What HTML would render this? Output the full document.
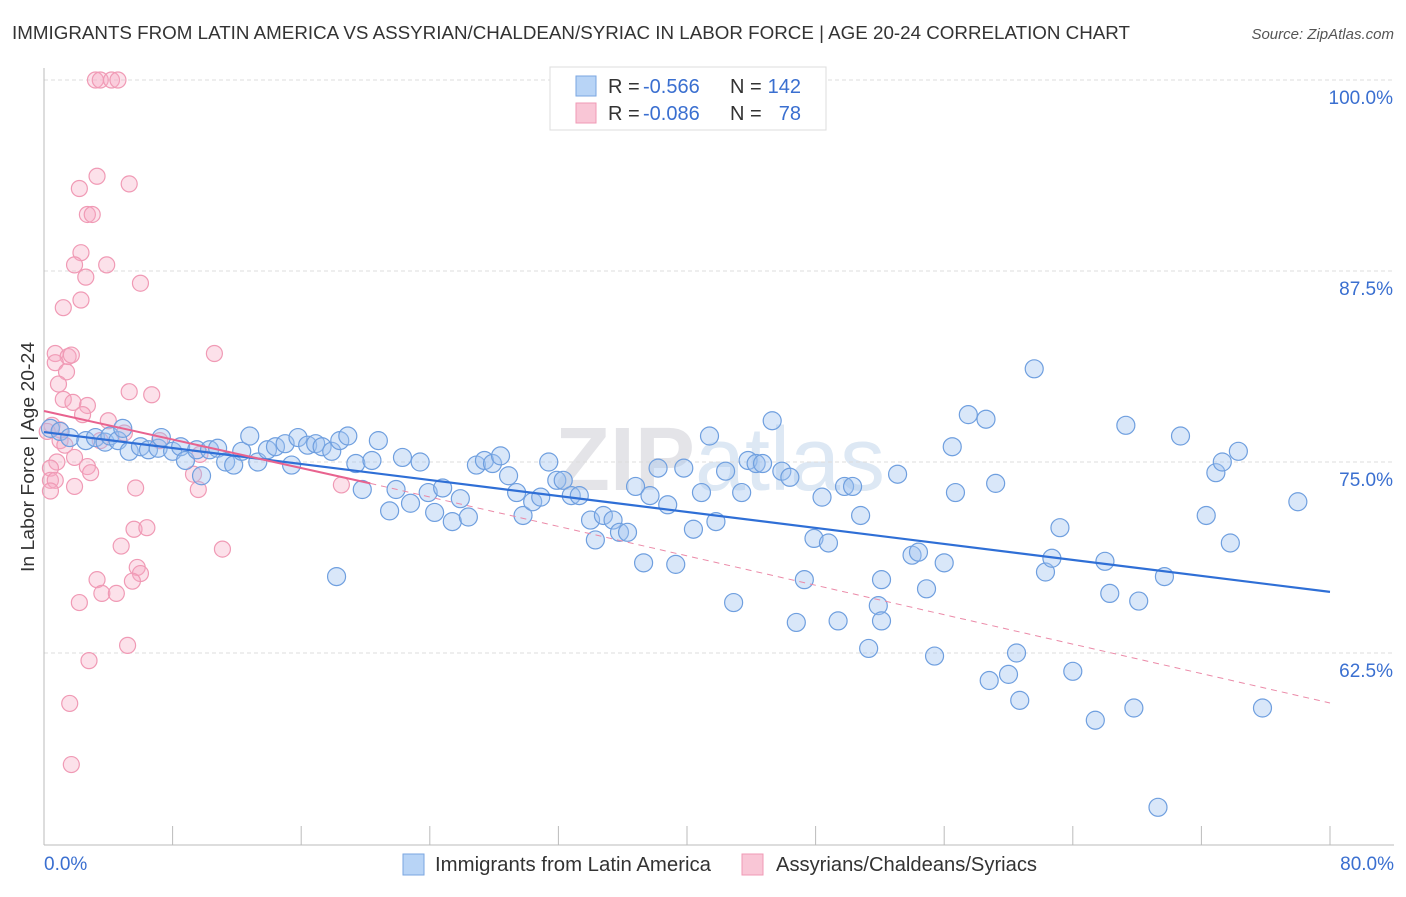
<!DOCTYPE html>
<html><head><meta charset="utf-8"><style>
body{margin:0;background:#fff;font-family:"Liberation Sans",sans-serif}
svg text{font-family:"Liberation Sans",sans-serif}
</style></head><body>
<svg id="c" width="1406" height="892" xmlns="http://www.w3.org/2000/svg">
<text x="12" y="39" font-size="18" fill="#333" textLength="1118" lengthAdjust="spacingAndGlyphs">IMMIGRANTS FROM LATIN AMERICA VS ASSYRIAN/CHALDEAN/SYRIAC IN LABOR FORCE | AGE 20-24 CORRELATION CHART</text>
<text x="1394" y="39" font-size="15" fill="#555" font-style="italic" text-anchor="end">Source: ZipAtlas.com</text>
<text x="720" y="490" font-size="90" fill="#ececef" text-anchor="middle" font-family="Liberation Serif"><tspan font-weight="bold" fill="#e4e4e8">ZIP</tspan><tspan fill="#dde8f4">atlas</tspan></text>
<g id="grid"></g><g id="axes"></g><g id="pink"></g><g id="blue"></g><g id="trend"></g>
<text transform="translate(34,457) rotate(-90)" font-size="18" fill="#333" text-anchor="middle" textLength="230" lengthAdjust="spacingAndGlyphs">In Labor Force | Age 20-24</text>
<g>
<rect x="550" y="67" width="276" height="63" fill="#fff" stroke="#ddd"/>
<rect x="576" y="76" width="20" height="20" fill="#b8d4f6" stroke="#7aa6e0"/>
<rect x="576" y="103" width="20" height="20" fill="#f9c6d6" stroke="#f09ab5"/>
<text x="608" y="93" font-size="20" fill="#333">R =</text>
<text x="643" y="93" font-size="20" fill="#3a6fd0">-0.566</text>
<text x="730" y="93" font-size="20" fill="#333">N =</text>
<text x="801" y="93" font-size="20" fill="#3a6fd0" text-anchor="end">142</text>
<text x="608" y="120" font-size="20" fill="#333">R =</text>
<text x="643" y="120" font-size="20" fill="#3a6fd0">-0.086</text>
<text x="730" y="120" font-size="20" fill="#333">N =</text>
<text x="801" y="120" font-size="20" fill="#3a6fd0" text-anchor="end">78</text>
</g>
<g>
<rect x="403" y="854" width="21" height="21" fill="#b8d4f6" stroke="#7aa6e0"/>
<text x="435" y="871" font-size="20" fill="#333" textLength="276" lengthAdjust="spacingAndGlyphs">Immigrants from Latin America</text>
<rect x="742" y="854" width="21" height="21" fill="#f9c6d6" stroke="#f09ab5"/>
<text x="776" y="871" font-size="20" fill="#333" textLength="261" lengthAdjust="spacingAndGlyphs">Assyrians/Chaldeans/Syriacs</text>
</g>
</svg>
<script>
const xTicks=[0,10,20,30,40,50,60,70,80];
const yTicks=[100,87.5,75,62.5];
const blueX=[0.4,1.0,1.6,2.6,3.2,3.8,4.1,4.6,4.9,5.3,6.0,6.5,7.1,7.3,8.0,8.5,8.8,9.5,9.8,10.3,10.8,11.3,11.8,12.3,12.8,13.3,13.9,14.4,15.0,15.4,15.8,16.4,16.9,17.3,17.9,18.4,18.9,19.4,19.8,20.4,20.8,21.5,21.9,22.3,22.8,23.4,23.9,24.3,24.8,25.4,25.9,26.4,26.9,27.4,27.9,28.4,28.9,29.4,29.8,30.4,30.9,31.4,31.9,32.3,32.8,33.3,34.0,34.3,34.8,35.4,35.8,36.3,36.8,37.3,37.7,38.2,38.8,39.3,39.8,40.4,40.9,41.4,41.8,42.4,42.9,43.4,43.8,44.3,44.7,45.3,45.9,46.4,46.8,47.3,47.9,48.4,48.8,49.4,49.8,50.3,50.8,51.3,51.9,52.1,52.1,53.1,54.0,54.4,54.9,55.4,56.0,56.5,56.7,57.5,58.6,59.2,58.8,60.0,60.5,60.7,61.6,62.3,62.7,63.2,64.0,65.4,66.0,66.3,67.3,67.8,68.1,69.3,69.7,70.7,72.3,72.9,73.3,73.8,74.3,75.8,78.0,18.2];
const blueY=[77.2,77.0,76.6,76.4,76.6,76.3,76.7,76.4,77.2,75.7,76.0,75.8,75.9,76.6,75.7,76.0,75.1,75.8,74.1,75.8,75.9,75.0,74.8,75.7,76.7,75.0,75.8,76.0,76.2,74.8,76.6,76.1,76.2,76.0,75.7,76.4,76.7,74.9,73.2,75.1,76.4,71.8,73.2,75.3,72.3,75.0,73.0,71.7,73.3,71.1,72.6,71.4,74.8,75.1,74.9,75.4,74.1,73.0,71.5,72.4,72.7,75.0,73.8,73.8,72.8,72.8,71.2,69.9,71.5,71.2,70.4,70.4,73.4,68.4,72.8,74.6,72.2,68.3,74.6,70.6,73.0,76.7,71.1,74.4,65.8,73.0,75.1,74.9,74.9,77.7,74.4,74.0,64.5,67.3,70.0,72.7,69.7,64.6,73.4,73.4,71.5,62.8,65.6,64.6,67.3,74.2,68.9,69.1,66.7,62.3,68.4,76.0,73.0,78.1,77.8,73.6,60.7,61.1,62.5,59.4,81.1,67.8,68.7,70.7,61.3,58.1,68.5,66.4,77.4,58.9,65.9,52.4,67.5,76.7,71.5,74.3,75.0,69.7,75.7,58.9,72.4,67.5];
const pinkX=[3.2,3.5,4.2,4.6,3.3,2.2,5.3,2.7,3.0,2.3,1.9,3.9,2.6,6.0,2.3,1.2,0.7,1.5,1.7,10.6,0.7,1.4,0.9,5.3,6.7,1.2,2.7,1.8,4.0,2.4,0.5,1.0,0.2,5.0,3.5,7.2,1.9,2.7,0.8,2.9,0.4,0.4,0.7,1.9,0.4,5.7,9.3,9.6,18.5,5.6,6.4,4.8,5.8,6.0,3.3,5.5,3.6,4.5,2.2,11.1,5.2,2.8,1.6,1.7,1.0,1.3,9.7];
const pinkY=[100,100,100,100,93.7,92.9,93.2,91.2,91.2,88.7,87.9,87.9,87.1,86.7,85.6,85.1,82.1,81.9,82.0,82.1,81.5,80.9,80.1,79.6,79.4,79.1,78.7,78.9,77.7,78.1,77.4,77.1,77.0,76.9,76.4,76.4,75.3,74.7,75.0,74.3,74.6,73.8,73.8,73.4,73.1,73.3,74.2,73.2,73.5,70.6,70.7,69.5,68.1,67.7,67.3,67.2,66.4,66.4,65.8,69.3,63.0,62.0,59.2,55.2,76.4,76.1,75.5];
const blueTrend=[0,76.96,80,66.5];
const pinkTrend=[0,78.34,20.3,73.6,80,59.23];
const X=v=>44+v*16.075, Y=v=>80+(100-v)*15.28;
const NS="http://www.w3.org/2000/svg";
function mk(p,t,a){const e=document.createElementNS(NS,t);for(const k in a)e.setAttribute(k,a[k]);document.getElementById(p).appendChild(e);return e;}
yTicks.forEach(t=>{
 const l=mk('grid','line',{x1:44,x2:1394,y1:Y(t),y2:Y(t),stroke:'#ddd','stroke-dasharray':'4 3'});
 
 
 const tx=mk('grid','text',{x:1393,y:Y(t)+24,'font-size':19,fill:'#3a6fd0','text-anchor':'end'});
 tx.textContent=t.toFixed(1)+'%';
 
 
});
mk('axes','line',{x1:44,x2:44,y1:68,y2:845,stroke:'#bbb'});
mk('axes','line',{x1:44,x2:1394,y1:845,y2:845,stroke:'#bbb'});
for(let i=0;i<=10;i++){const x=44+i*128.6;const t=mk('axes','line',{x1:x,x2:x,y1:826,y2:845,stroke:'#bbb'});
 
 }
[[0,'0.0%','start',44],[80,'80.0%','end',1394]].forEach(a=>{const t=mk('axes','text',{x:a[3],y:870,'font-size':19,fill:'#3a6fd0','text-anchor':a[2]});t.textContent=a[1];
 
 });
pinkX.forEach((v,i)=>{const c=mk('pink','circle',{cx:X(v),cy:Y(pinkY[i]),r:8,fill:'rgba(246,170,195,0.35)',stroke:'#f09ab5','stroke-width':1.2});
 
 });
blueX.forEach((v,i)=>{const c=mk('blue','circle',{cx:X(v),cy:Y(blueY[i]),r:9,fill:'rgba(160,196,240,0.4)',stroke:'#6f9fdf','stroke-width':1.2});
 
 });
let l=mk('trend','line',{x1:X(blueTrend[0]),y1:Y(blueTrend[1]),x2:X(blueTrend[2]),y2:Y(blueTrend[3]),stroke:'#2f6fd6','stroke-width':2.2});


l=mk('trend','line',{x1:X(pinkTrend[0]),y1:Y(pinkTrend[1]),x2:X(pinkTrend[2]),y2:Y(pinkTrend[3]),stroke:'#e8638f','stroke-width':2});


l=mk('trend','line',{x1:X(pinkTrend[2]),y1:Y(pinkTrend[3]),x2:X(pinkTrend[4]),y2:Y(pinkTrend[5]),stroke:'#eb8aa8','stroke-width':1,'stroke-dasharray':'6 5'});


</script>
</body></html>
